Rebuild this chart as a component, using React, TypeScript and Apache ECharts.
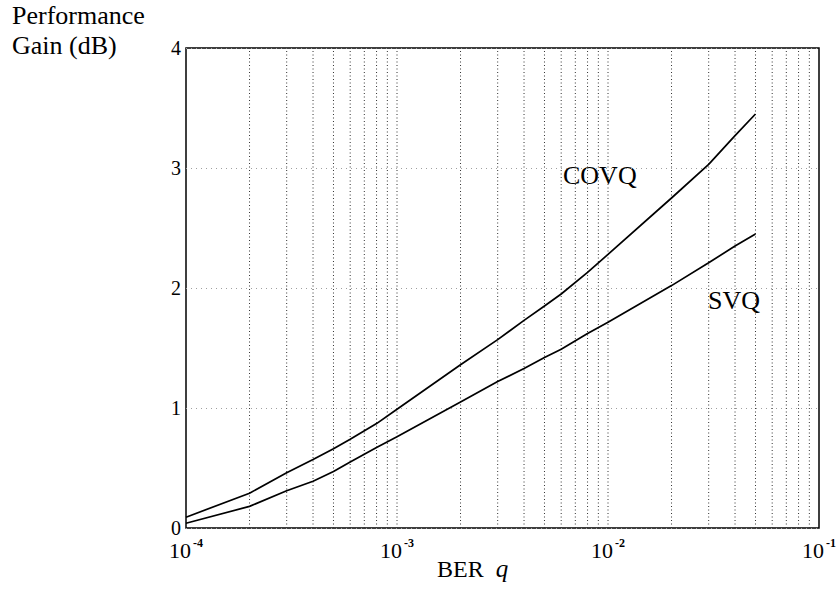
import React, { useEffect, useRef } from "react";
import * as echarts from "echarts";

// BER values (x) shared by both curves
const berValues = [1e-4, 2e-4, 3e-4, 4e-4, 5e-4, 6e-4, 8e-4, 1e-3, 2e-3, 3e-3, 4e-3, 5e-3, 6e-3, 8e-3, 1e-2, 2e-2, 3e-2, 4e-2, 5e-2];
// Performance gain (dB)
const covqGain = [0.09, 0.29, 0.46, 0.57, 0.66, 0.74, 0.87, 0.99, 1.36, 1.57, 1.73, 1.85, 1.95, 2.13, 2.28, 2.75, 3.03, 3.27, 3.45];
const svqGain = [0.04, 0.18, 0.31, 0.39, 0.47, 0.55, 0.67, 0.76, 1.05, 1.22, 1.33, 1.42, 1.49, 1.62, 1.715, 2.02, 2.21, 2.35, 2.45];
// Vertical dotted grid positions (log decades 2..10)
const gridBer = [
  2e-4, 3e-4, 4e-4, 5e-4, 6e-4, 7e-4, 8e-4, 9e-4, 1e-3,
  2e-3, 3e-3, 4e-3, 5e-3, 6e-3, 7e-3, 8e-3, 9e-3, 1e-2,
  2e-2, 3e-2, 4e-2, 5e-2, 6e-2, 7e-2, 8e-2, 9e-2,
];
const yTicks = [0, 1, 2, 3, 4];
const seriesNames = ["COVQ", "SVQ"];

const FONT = "Liberation Serif, Times New Roman, serif";

export default function App() {
  const ref = useRef<HTMLDivElement>(null);
  useEffect(() => {
    if (!ref.current) return;
    const chart = echarts.init(ref.current, undefined, { renderer: "svg" });
    const pairs = (ys: number[]) => berValues.map((x, i) => [x, ys[i]]);
    const yMin = yTicks[0];
    const yMax = yTicks[yTicks.length - 1];
    chart.setOption({
      animation: false,
      backgroundColor: "#fff",
      textStyle: { fontFamily: FONT, color: "#000" },
      grid: {
        left: 186,
        right: 19,
        top: 48,
        bottom: 61,
        show: true,
        borderColor: "#000",
        borderWidth: 1.5,
        backgroundColor: "transparent",
      },
      xAxis: {
        type: "log",
        logBase: 10,
        min: 1e-4,
        max: 1e-1,
        axisLine: { show: false },
        axisTick: { show: false },
        splitLine: { show: false },
        axisLabel: {
          margin: 9,
          fontFamily: FONT,
          color: "#000",
          formatter: (v: number) => {
            const e = Math.round(Math.log10(v));
            return `{b|10}{s|${e}}`;
          },
          rich: {
            b: { fontSize: 22, lineHeight: 26, fontFamily: FONT, color: "#000" },
            s: { fontSize: 12, lineHeight: 12, padding: [0, 0, 14, 2], fontFamily: FONT, color: "#000", fontWeight: "bold" },
          },
        },
      },
      yAxis: {
        type: "value",
        min: yMin,
        max: yMax,
        interval: 1,
        axisLine: { show: false },
        axisTick: { show: false },
        axisLabel: { fontSize: 20, margin: 5, color: "#000", fontFamily: FONT },
        splitLine: { show: true, lineStyle: { color: "#a0a0a0", type: [1, 4], width: 1 } },
      },
      graphic: [
        { type: "text", left: 12, top: 2, style: { text: "Performance", font: `26px ${FONT}`, fill: "#000" } },
        { type: "text", left: 12, top: 32, style: { text: "Gain (dB)", font: `26px ${FONT}`, fill: "#000" } },
        {
          type: "text",
          left: 437,
          top: 556,
          style: {
            text: "BER {q|q}",
            font: `24px ${FONT}`,
            fill: "#000",
            rich: { q: { fontStyle: "italic", fontSize: 25, fontFamily: FONT, padding: [0, 0, 0, 6] } },
          },
        },
        { type: "text", left: 563, top: 162, style: { text: seriesNames[0], font: `26px ${FONT}`, fill: "#000" } },
        { type: "text", left: 708, top: 287, style: { text: seriesNames[1], font: `26px ${FONT}`, fill: "#000" } },
      ],
      series: [
        {
          name: "grid",
          type: "custom",
          silent: true,
          z: 1,
          data: gridBer.map((q) => [q]),
          encode: { x: 0 },
          renderItem: (params: any, api: any) => {
            const q = api.value(0);
            const p0 = api.coord([q, yMin]);
            const p1 = api.coord([q, yMax]);
            return {
              type: "line",
              shape: { x1: p0[0], y1: p0[1], x2: p1[0], y2: p1[1] },
              style: { stroke: "#333", lineWidth: 1, lineDash: [1, 2.5] },
            };
          },
        },
        {
          name: seriesNames[0],
          type: "line",
          data: pairs(covqGain),
          symbol: "none",
          lineStyle: { color: "#000", width: 1.7 },
          z: 3,
        },
        {
          name: seriesNames[1],
          type: "line",
          data: pairs(svqGain),
          symbol: "none",
          lineStyle: { color: "#000", width: 1.7 },
          z: 3,
        },
      ],
    });
    return () => chart.dispose();
  }, []);
  return <div ref={ref} style={{ position: "absolute", left: 0, top: 0, width: 839, height: 589 }} />;
}
